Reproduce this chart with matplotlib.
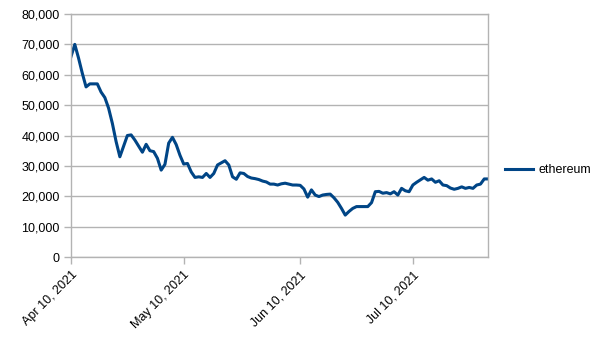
import matplotlib
matplotlib.use('Agg')
import matplotlib.pyplot as plt
import matplotlib.dates as mdates
import numpy as np
import pandas as pd

plt.rcParams['font.family'] = ['Liberation Sans', 'DejaVu Sans']

start = '2021-04-10'
ethereum = [
    66000, 70000, 65500, 60500, 56000, 57000, 57000, 57000, 54300, 52500,
    49000, 44000, 38000, 33000, 36500, 40000, 40200, 38500, 36500, 34500,
    37100, 35000, 34700, 32500, 28600, 30500, 37500, 39400, 37000, 33500,
    30600, 30800, 28000, 26200, 26400, 26200, 27500, 26200, 27500, 30300,
    31000, 31700, 30300, 26400, 25600, 27700, 27500, 26500, 26000, 25800,
    25500, 25000, 24700, 24000, 24000, 23700, 24100, 24300, 24000, 23700,
    23700, 23600, 22400, 19700, 22100, 20400, 19900, 20400, 20600, 20700,
    19500, 18000, 16000, 13800, 15000, 16000, 16600, 16600, 16600, 16600,
    17900, 21500, 21600, 21000, 21200, 20800, 21500, 20400, 22600, 21800,
    21500, 23700, 24600, 25400, 26200, 25300, 25700, 24600, 25100, 23700,
    23500, 22700, 22300, 22600, 23100, 22600, 22900, 22600, 23700, 24000,
    25700, 25700,
]
dates = pd.date_range(start, periods=len(ethereum), freq='D')
tick_dates = pd.to_datetime(['2021-04-10', '2021-05-10', '2021-06-10', '2021-07-10'])

fig = plt.figure(figsize=(6.05, 3.4), dpi=100)
ax = fig.add_axes([0.1174, 0.2441, 0.6892, 0.7147])

grid_col = '#b3b3b3'
ax.plot(dates, ethereum, color='#004586', lw=2.2, label='ethereum', solid_joinstyle='round')

ax.set_ylim(0, 80000)
ax.set_yticks(np.arange(0, 80001, 10000))
ax.yaxis.set_major_formatter(matplotlib.ticker.FuncFormatter(lambda v, p: f'{int(v):,}'))
ax.set_xlim(dates[0], dates[-1])
ax.set_xticks(tick_dates)
ax.xaxis.set_major_formatter(mdates.DateFormatter('%b %d, %Y'))

ax.grid(axis='y', color=grid_col, lw=1)
ax.set_axisbelow(True)
for s in ax.spines.values():
    s.set_color(grid_col)
    s.set_linewidth(1)
ax.tick_params(axis='both', color=grid_col, length=5, width=1, labelsize=9, labelcolor='black')
ax.tick_params(axis='y', pad=3)
for lbl in ax.get_xticklabels():
    lbl.set_rotation(45)
    lbl.set_ha('right')
    lbl.set_rotation_mode('anchor')

# legend sits to the right of the plot, vertically centred on the figure
ax.legend(loc='center left', bbox_to_anchor=(505 / 605, 0.5), bbox_transform=fig.transFigure,
          frameon=False, fontsize=9, borderpad=0, borderaxespad=0,
          handlelength=2.25, handletextpad=0.4)

plt.savefig('out.png', dpi=100)
